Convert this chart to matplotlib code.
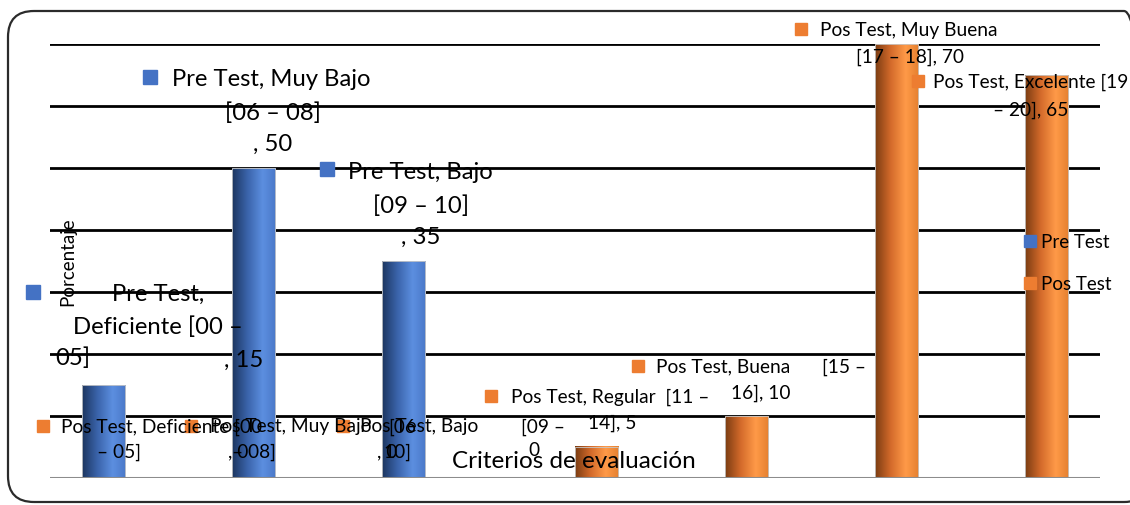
import numpy as np
import matplotlib
matplotlib.use("Agg")
import matplotlib.pyplot as plt
from matplotlib.colors import LinearSegmentedColormap
from matplotlib.patches import FancyBboxPatch
from matplotlib.transforms import IdentityTransform

plt.rcParams['font.family'] = ['Lato', 'DejaVu Sans']

# ---------------- data ----------------
categories = ["Deficiente [00 – 05]", "Muy Bajo [06 – 08]", "Bajo [09 – 10]",
              "Regular [11 – 14]", "Buena [15 – 16]", "Muy Buena [17 – 18]",
              "Excelente [19 – 20]"]
series_names = ["Pre Test", "Pos Test"]
pre_test = [15, 50, 35, 0, 0, 0, 0]
pos_test = [0, 0, 0, 5, 10, 70, 65]
y_ticks = [10, 20, 30, 40, 50, 60, 70]
x_title = "Criterios de evaluación"
y_title = "Porcentaje"

BLUE = "#4472C4"
ORANGE = "#ED7D31"

W, H = 1130, 506
fig = plt.figure(figsize=(W / 100, H / 100), dpi=100)
ax = fig.add_axes([50 / W, (H - 479) / H, 1050 / W, 434 / H])

x = np.arange(len(categories))
bw = 0.287
bars_pre = ax.bar(x - bw / 2, pre_test, bw, color=BLUE, zorder=2)
bars_pos = ax.bar(x + bw / 2, pos_test, bw, color=ORANGE, zorder=2)

cmap_b = LinearSegmentedColormap.from_list(
    "b", [(0, "#1c355f"), (0.35, "#3a63aa"), (0.7, "#5c8fe0"), (1.0, "#4a78c8")])
cmap_o = LinearSegmentedColormap.from_list(
    "o", [(0, "#7a3c12"), (0.35, "#d2692a"), (0.7, "#ff9a48"), (1.0, "#e5802f")])
grad = np.linspace(0, 1, 256).reshape(1, -1)
for bars, cm in ((bars_pre, cmap_b), (bars_pos, cmap_o)):
    for p in bars:
        h = p.get_height()
        if h <= 0:
            continue
        p.set_visible(False)
        x0, w = p.get_x(), p.get_width()
        ax.imshow(grad, cmap=cm, extent=[x0, x0 + w, 0, h], aspect='auto',
                  zorder=2, interpolation='bilinear')
        ax.add_patch(plt.Rectangle((x0, 0), w, h, fill=False, ec="#c8c8c8",
                                   lw=0.6, zorder=2.1))

ax.set_xlim(-0.5, len(categories) - 0.5)
ax.set_ylim(0, 70)
ax.set_yticks(y_ticks)
ax.set_xticks([])
ax.tick_params(left=False, labelleft=False)
ax.yaxis.grid(True, color="black", lw=2.0, zorder=1)
ax.set_axisbelow(True)
for s in ax.spines.values():
    s.set_visible(False)
ax.axhline(0, color="#8c8c8c", lw=2.2, zorder=2.5)

TXT = "#000000"
BIG = 17.2
SMALL = 13.8


def marker(xx, yy, color, size):
    ax.plot([xx], [yy], marker='s', ms=size, color=color, mec=color,
            linestyle='none', clip_on=False, zorder=4)


def txt(xx, yy, s, size, ha='center'):
    ax.text(xx, yy, s, fontsize=size, ha=ha, va='center', color=TXT,
            clip_on=False, zorder=5)


# Pre Test labels
marker(-0.613, 30.0, BLUE, 10)
txt(0.22, 29.8, "Pre Test,", BIG)
txt(0.22, 24.5, "Deficiente [00 –", BIG)
txt(-0.467, 19.5, "05]", BIG, 'left')
txt(0.66, 19.2, ", 15", BIG, 'left')

marker(0.167, 64.7, BLUE, 10)
txt(0.313, 64.4, "Pre Test, Muy Bajo", BIG, 'left')
txt(0.987, 59.0, "[06 – 08]", BIG)
txt(0.987, 53.9, ", 50", BIG)

marker(1.347, 49.8, BLUE, 10)
txt(1.487, 49.5, "Pre Test, Bajo", BIG, 'left')
txt(1.973, 44.0, "[09 – 10]", BIG)
txt(1.973, 39.0, ", 35", BIG)

# Pos Test labels (overlapping bottom row)
marker(-0.547, 8.4, ORANGE, 8.5)
txt(-0.427, 8.4, "Pos Test, Deficiente [00", SMALL, 'left')
marker(0.44, 8.4, ORANGE, 8.5)
txt(0.567, 8.4, "Pos Test, Muy Bajo", SMALL, 'left')
txt(1.753, 8.4, "[06", SMALL, 'left')
marker(1.453, 8.4, ORANGE, 8.5)
txt(1.567, 8.4, "Pos Test, Bajo", SMALL, 'left')
txt(2.64, 8.4, "[09 –", SMALL, 'left')
txt(-0.187, 4.35, "– 05]", SMALL, 'left')
txt(0.687, 4.35, ", 0", SMALL, 'left')
txt(0.713, 4.35, "– 08]", SMALL, 'left')
txt(1.68, 4.35, ", 0", SMALL, 'left')
txt(1.72, 4.35, "10]", SMALL, 'left')
txt(2.687, 4.6, "0", SMALL, 'left')

marker(2.44, 13.2, ORANGE, 8.5)
txt(2.573, 13.2, "Pos Test, Regular  [11 –", SMALL, 'left')
txt(3.247, 9.03, "14], 5", SMALL)

marker(3.42, 18.06, ORANGE, 8.5)
txt(3.54, 18.06, "Pos Test, Buena", SMALL, 'left')
txt(4.647, 18.06, "[15 –", SMALL, 'left')
txt(4.24, 13.87, "16], 10", SMALL)

marker(4.507, 72.4, ORANGE, 8.5)
txt(4.633, 72.26, "Pos Test, Muy Buena", SMALL, 'left')
txt(5.233, 68.06, "[17 – 18], 70", SMALL)

marker(5.287, 64.0, ORANGE, 8.5)
txt(5.387, 64.0, "Pos Test, Excelente [19", SMALL, 'left')
txt(6.04, 59.5, "– 20], 65", SMALL)

# legend
marker(6.033, 38.2, BLUE, 8)
txt(6.107, 38.2, series_names[0], 13.5, 'left')
marker(6.033, 31.45, ORANGE, 8)
txt(6.107, 31.45, series_names[1], 13.5, 'left')

# axis titles
ax.text(-0.38, 35, y_title, rotation=90, fontsize=13.5, ha='center',
        va='center', color=TXT, zorder=5)
ax.text(2.993, 2.9, x_title, fontsize=17.5, ha='center', va='center',
        color=TXT, zorder=6)

# rounded chart border (right side lies beyond the canvas)
border = FancyBboxPatch((8, H - 503), 1150 - 8, 503 - 12,
                        boxstyle="round,pad=0,rounding_size=26",
                        transform=IdentityTransform(), fill=False,
                        ec="#2b2b2b", lw=1.6, zorder=10)
fig.patches.append(border)

fig.savefig("out.png", dpi=100)
